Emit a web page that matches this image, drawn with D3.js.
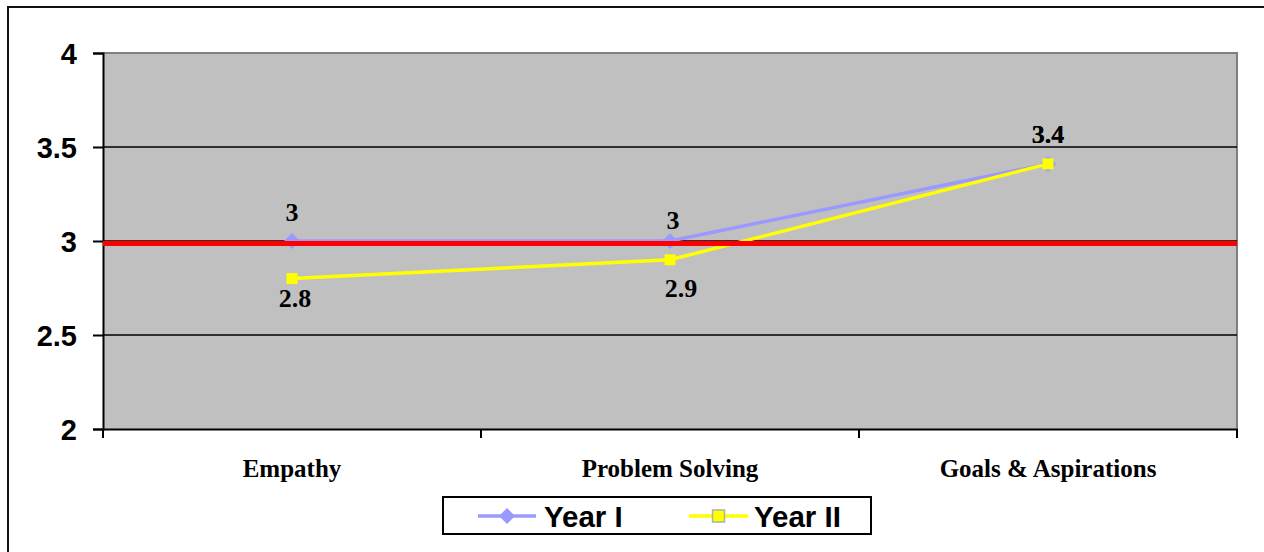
<!DOCTYPE html>
<html>
<head>
<meta charset="utf-8">
<script src="https://cdn.jsdelivr.net/npm/d3@7"></script>
<style>
  html, body { margin: 0; padding: 0; background: #fff; }
  svg { display: block; }
</style>
</head>
<body>
<svg id="chart" width="1264" height="552"></svg>
<script>
// Resilience scale means by domain, two survey years
const categories = ["Empathy", "Problem Solving", "Goals & Aspirations"];
const yearI = [3.0, 3.0, 3.41];
const yearII = [2.8, 2.9, 3.41];
const yearILabels = ["3", "3", "3.4"];
const yearIILabels = ["2.8", "2.9", "3.4"];
const yTickValues = [2, 2.5, 3, 3.5, 4];
const yTickLabels = ["2", "2.5", "3", "3.5", "4"];
const referenceValue = 3;
const seriesNames = ["Year I", "Year II"];

const W = 1264, H = 552;
const margin = { top: 53, right: 27, bottom: 123, left: 103 };
const svg = d3.select("#chart");

// Outer chart frame (runs off the right and bottom edge)
svg.append("rect")
  .attr("x", 8).attr("y", 7)
  .attr("width", W + 20).attr("height", H + 20)
  .attr("fill", "#fff").attr("stroke", "#111").attr("stroke-width", 2);

const x = d3.scaleBand().domain(categories).range([margin.left, W - margin.right]).padding(0);
const y = d3.scaleLinear().domain([2, 4]).range([H - margin.bottom, margin.top]);
const cx = c => x(c) + x.bandwidth() / 2;

// Plot area
svg.append("rect")
  .attr("x", x.range()[0]).attr("y", y(4))
  .attr("width", x.range()[1] - x.range()[0]).attr("height", y(2) - y(4))
  .attr("fill", "#C0C0C0");
// gray border on top and right
svg.append("path")
  .attr("d", `M${x.range()[0]},${y(4)}H${x.range()[1]}V${y(2)}`)
  .attr("fill", "none").attr("stroke", "#808080").attr("stroke-width", 2);

// Horizontal gridlines
svg.append("g").selectAll("line")
  .data(yTickValues.filter(v => v > 2 && v < 4))
  .join("line")
  .attr("x1", x.range()[0]).attr("x2", x.range()[1])
  .attr("y1", d => y(d)).attr("y2", d => y(d))
  .attr("stroke", "#000").attr("stroke-width", 1.5);

// Y axis
const yAxis = d3.axisLeft(y)
  .tickValues(yTickValues)
  .tickFormat((d, i) => yTickLabels[i])
  .tickSize(10).tickPadding(16);
const gy = svg.append("g").attr("transform", `translate(${x.range()[0]},0)`).call(yAxis);
gy.select(".domain").attr("stroke", "#000").attr("stroke-width", 2);
gy.selectAll(".tick line").attr("stroke", "#000").attr("stroke-width", 2);
gy.selectAll(".tick text")
  .attr("font-family", "'Liberation Sans', Arial, sans-serif")
  .attr("font-weight", "bold").attr("font-size", 29).attr("fill", "#000")
  .attr("dy", "0.36em");

// X axis
const xAxis = d3.axisBottom(x).tickSize(0).tickPadding(30);
const gx = svg.append("g").attr("transform", `translate(0,${y(2)})`).call(xAxis);
gx.select(".domain").attr("stroke", "#000").attr("stroke-width", 2);
gx.selectAll(".tick text")
  .attr("font-family", "'Liberation Serif', 'Times New Roman', serif")
  .attr("font-weight", "bold").attr("font-size", 25).attr("fill", "#000");
// category boundary ticks
const bounds = categories.map(c => x(c)).concat([x.range()[1]]);
gx.append("g").selectAll("line").data(bounds).join("line")
  .attr("x1", d => d).attr("x2", d => d)
  .attr("y1", 0).attr("y2", 9)
  .attr("stroke", "#000").attr("stroke-width", 2);

const colI = "#9999FF", colII = "#FFFF00";
const line = d3.line().x((d, i) => cx(categories[i])).y(d => y(d));
const diamondPath = r => `M0,${-r}L${r},0L0,${r}L${-r},0Z`;

// Year I line and diamonds
svg.append("path").datum(yearI)
  .attr("d", line).attr("fill", "none")
  .attr("stroke", colI).attr("stroke-width", 3.5);
svg.append("g").selectAll("path").data(yearI).join("path")
  .attr("transform", (d, i) => `translate(${cx(categories[i])},${y(d)})`)
  .attr("d", diamondPath(8)).attr("fill", colI);

// Year II line
svg.append("path").datum(yearII)
  .attr("d", line).attr("fill", "none")
  .attr("stroke", colII).attr("stroke-width", 3.5);

// Reference line at the scale midpoint
svg.append("line")
  .attr("x1", x.range()[0]).attr("x2", x.range()[1])
  .attr("y1", y(referenceValue) + 2.5).attr("y2", y(referenceValue) + 2.5)
  .attr("stroke", "#FF0000").attr("stroke-width", 5);

// Year II squares
svg.append("g").selectAll("rect").data(yearII).join("rect")
  .attr("x", (d, i) => cx(categories[i]) - 5.5)
  .attr("y", d => y(d) - 5.5)
  .attr("width", 11).attr("height", 11)
  .attr("fill", colII);

// Data labels
const labelFont = "'Liberation Serif', 'Times New Roman', serif";
const labelOffI = [[0, -20], [3, -12], [0, -21]];
const labelOffII = [[3, 28], [11, 37], [0, -21]];
svg.append("g").selectAll("text").data(yearI).join("text")
  .attr("x", (d, i) => cx(categories[i]) + labelOffI[i][0])
  .attr("y", (d, i) => y(d) + labelOffI[i][1])
  .attr("text-anchor", "middle")
  .attr("font-family", labelFont).attr("font-weight", "bold").attr("font-size", 26)
  .text((d, i) => yearILabels[i]);
svg.append("g").selectAll("text").data(yearII).join("text")
  .attr("x", (d, i) => cx(categories[i]) + labelOffII[i][0])
  .attr("y", (d, i) => y(d) + labelOffII[i][1])
  .attr("text-anchor", "middle")
  .attr("font-family", labelFont).attr("font-weight", "bold").attr("font-size", 26)
  .text((d, i) => yearIILabels[i]);

// Legend
const lg = svg.append("g");
lg.append("rect").attr("x", 443).attr("y", 497).attr("width", 428).attr("height", 37)
  .attr("fill", "#fff").attr("stroke", "#000").attr("stroke-width", 2);
const ly = 516;
lg.append("line").attr("x1", 478).attr("x2", 536).attr("y1", ly).attr("y2", ly)
  .attr("stroke", colI).attr("stroke-width", 3.5);
lg.append("path").attr("transform", `translate(507,${ly})`).attr("d", diamondPath(8)).attr("fill", colI);
lg.append("text").attr("x", 544).attr("y", 527)
  .attr("font-family", "'Liberation Sans', Arial, sans-serif").attr("font-weight", "bold")
  .attr("font-size", 29.5).text(seriesNames[0]);
lg.append("line").attr("x1", 689).attr("x2", 748).attr("y1", ly).attr("y2", ly)
  .attr("stroke", colII).attr("stroke-width", 3.5);
lg.append("rect").attr("x", 712.5).attr("y", ly - 6).attr("width", 12).attr("height", 12)
  .attr("fill", colII).attr("stroke", "#B0B0B0").attr("stroke-width", 1.5);
lg.append("text").attr("x", 754).attr("y", 527)
  .attr("font-family", "'Liberation Sans', Arial, sans-serif").attr("font-weight", "bold")
  .attr("font-size", 29.5).text(seriesNames[1]);
</script>
</body>
</html>
